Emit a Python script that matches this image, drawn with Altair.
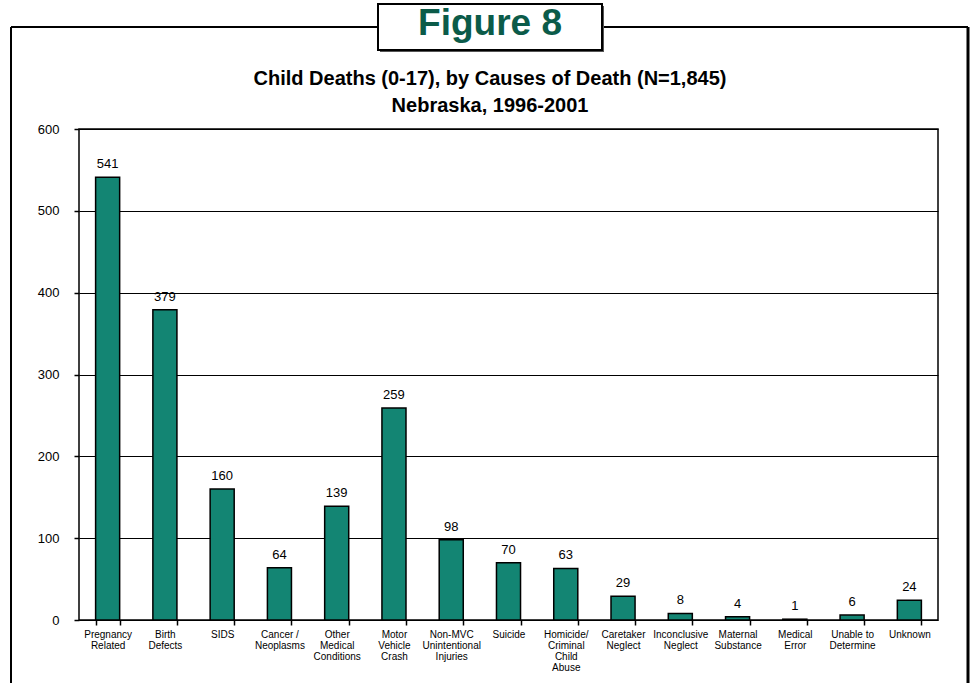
import altair as alt
import pandas as pd

# Causes of death (line breaks marked with "|") and counts, Nebraska 1996-2001
causes = [
    "Pregnancy|Related", "Birth|Defects", "SIDS", "Cancer /|Neoplasms",
    "Other|Medical|Conditions", "Motor|Vehicle|Crash", "Non-MVC|Unintentional|Injuries",
    "Suicide", "Homicide/|Criminal|Child|Abuse", "Caretaker|Neglect",
    "Inconclusive|Neglect", "Maternal|Substance", "Medical|Error",
    "Unable to|Determine", "Unknown",
]
deaths = [541, 379, 160, 64, 139, 259, 98, 70, 63, 29, 8, 4, 1, 6, 24]

figure_label = "Figure 8"
title_lines = ["Child Deaths (0-17), by Causes of Death (N=1,845)", "Nebraska, 1996-2001"]
y_ticks = [0, 100, 200, 300, 400, 500, 600]

FONT = "Liberation Sans"
W, H = 859, 491

df = pd.DataFrame({"cause": causes, "deaths": deaths})

x_enc = alt.X(
    "cause:N", sort=None, title=None,
    scale=alt.Scale(paddingInner=0.58, paddingOuter=0.29),
    axis=alt.Axis(
        labelExpr="split(datum.label, '|')", labelAngle=0, labelFont=FONT,
        labelFontSize=10, labelLineHeight=11, labelColor="black", labelPadding=4,
        tickBand="extent", tickSize=5, tickColor="black", tickWidth=1.5,
        domain=False, grid=False, labelBaseline="top",
    ),
)
y_enc = alt.Y(
    "deaths:Q", title=None,
    scale=alt.Scale(domain=[0, 600], nice=False),
    axis=alt.Axis(
        values=y_ticks, labelFont=FONT, labelFontSize=13, labelColor="black",
        labelPadding=15, tickSize=5, tickColor="black", tickWidth=1.5,
        domain=False, grid=True, gridColor="black", gridWidth=1, gridOpacity=1,
    ),
)

bars = alt.Chart(df).mark_bar(
    color="#138573", stroke="black", strokeWidth=1.5
).encode(x=x_enc, y=y_enc)

values = alt.Chart(df).mark_text(
    font=FONT, fontSize=13, color="black", baseline="alphabetic", dy=-9
).encode(x=alt.X("cause:N", sort=None), y="deaths:Q", text="deaths:Q")

one = pd.DataFrame({"k": [0]})

# Outer frame around the figure
frame_top = alt.Chart(one).mark_rule(color="black", strokeWidth=2).encode(
    x=alt.value(-68), x2=alt.value(889), y=alt.value(-102))
frame_left = alt.Chart(one).mark_rule(color="black", strokeWidth=2).encode(
    x=alt.value(-68), y=alt.value(-102), y2=alt.value(570))
frame_right = alt.Chart(one).mark_rule(color="black", strokeWidth=3).encode(
    x=alt.value(889), y=alt.value(-102), y2=alt.value(570))

# Figure label box with a small shadow
box_shadow = alt.Chart(one).mark_rect(color="#555555").encode(
    x=alt.value(301), x2=alt.value(525), y=alt.value(-123), y2=alt.value(-77))
box = alt.Chart(one).mark_rect(fill="white", stroke="black", strokeWidth=2).encode(
    x=alt.value(299), x2=alt.value(523), y=alt.value(-125), y2=alt.value(-79))
fig_text = alt.Chart(one).mark_text(
    text=figure_label, font=FONT, fontSize=37, fontWeight="bold",
    color="#0b5b49", align="center", baseline="alphabetic",
).encode(x=alt.value(411), y=alt.value(-94))

title1 = alt.Chart(one).mark_text(
    text=title_lines[0], font=FONT, fontSize=20, fontWeight="bold",
    color="black", align="center", baseline="alphabetic",
).encode(x=alt.value(411), y=alt.value(-44))
title2 = alt.Chart(one).mark_text(
    text=title_lines[1], font=FONT, fontSize=20, fontWeight="bold",
    color="black", align="center", baseline="alphabetic",
).encode(x=alt.value(411), y=alt.value(-17))

chart = alt.layer(
    frame_top, frame_left, frame_right, box_shadow, box, fig_text,
    title1, title2, bars, values,
).properties(
    width=W, height=H,
    autosize=alt.AutoSizeParams(type="none"),
    padding={"left": 79, "top": 129, "right": 33, "bottom": 63},
    background="white",
).configure_view(
    stroke="black", strokeWidth=1.5
)

chart.save("out.html", embed_options={"renderer": "svg", "actions": False})
